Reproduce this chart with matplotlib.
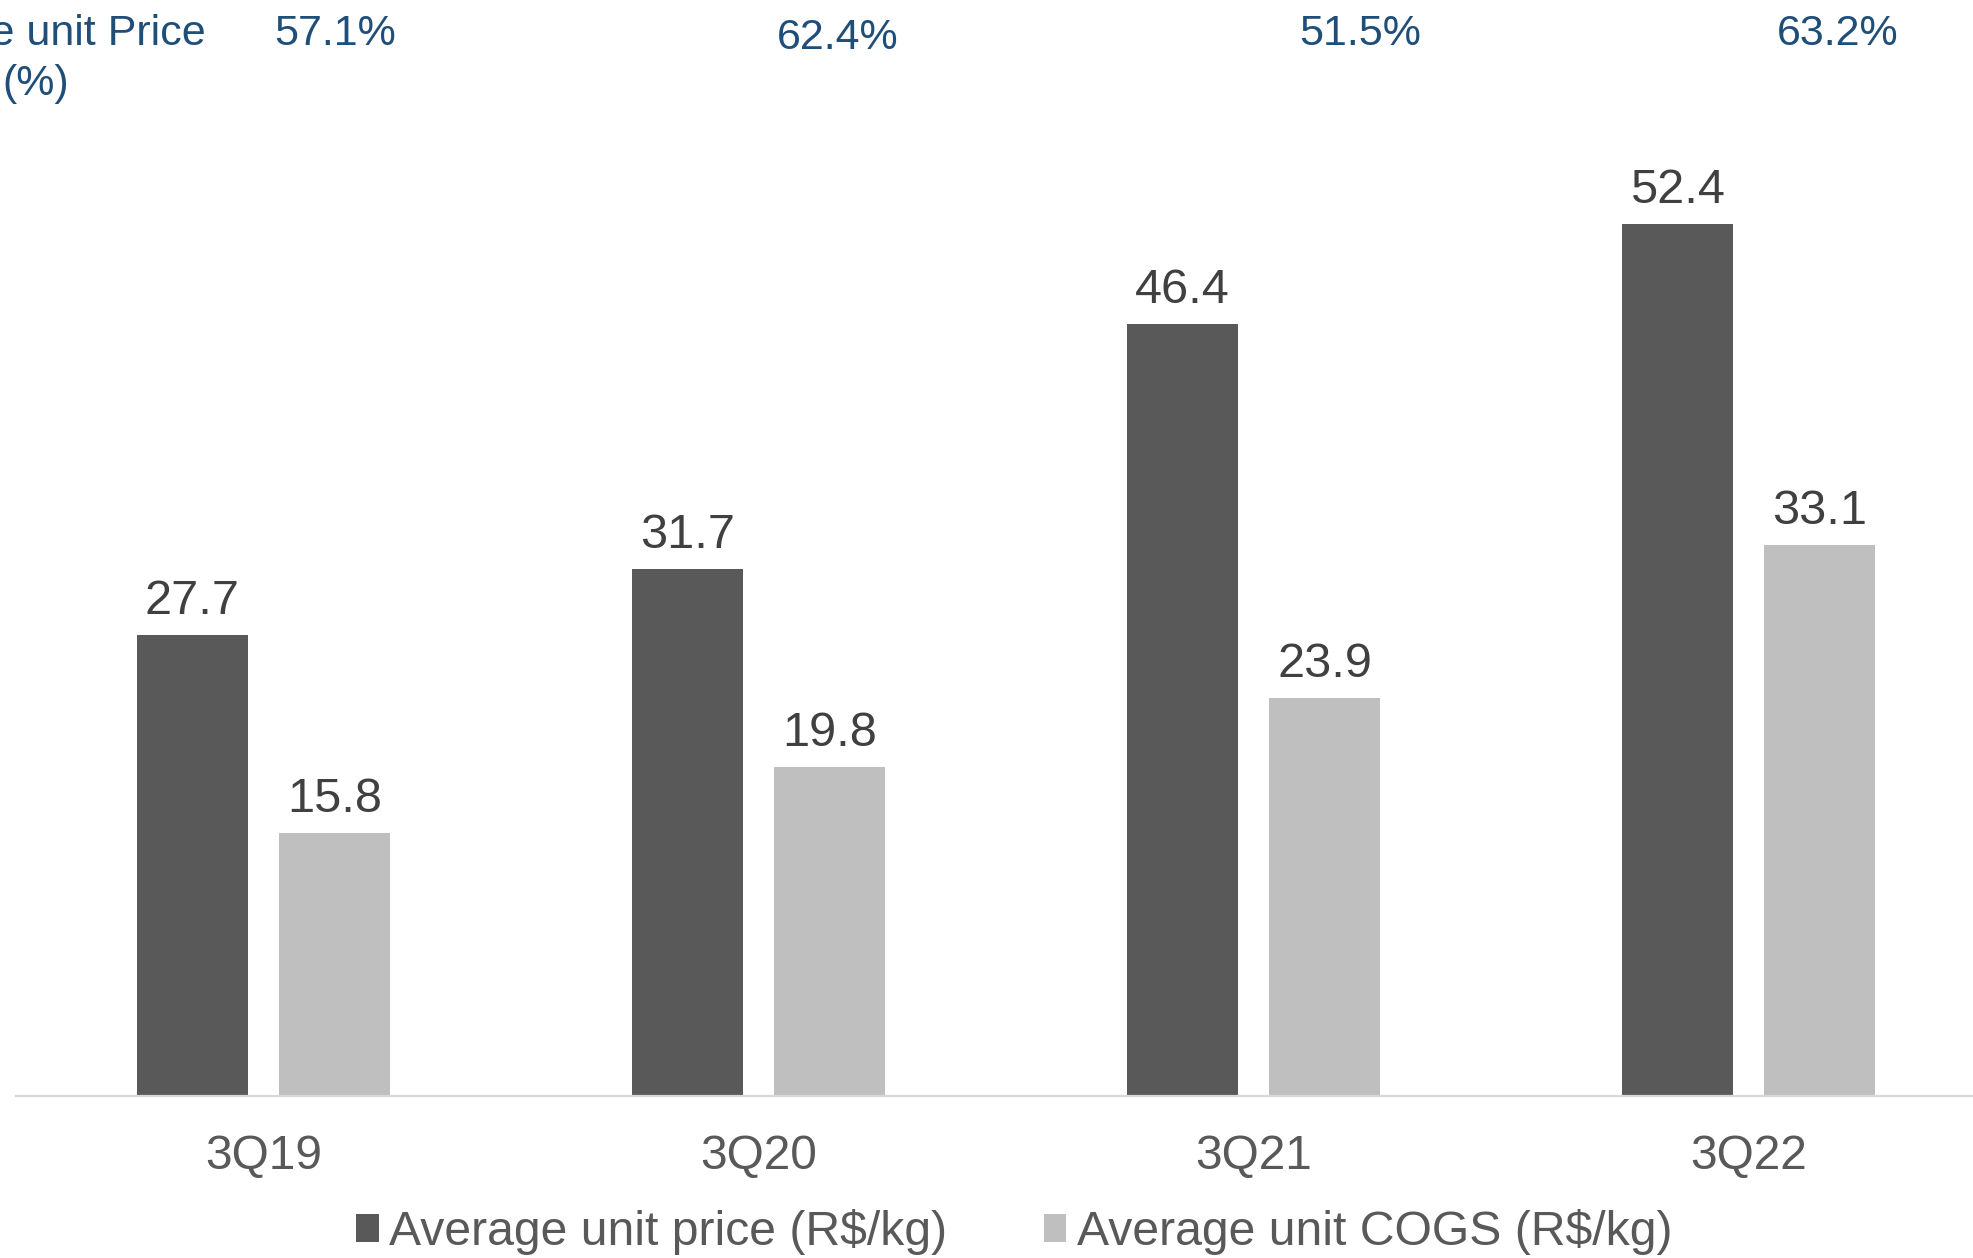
import matplotlib
matplotlib.use("Agg")
import matplotlib.pyplot as plt
from matplotlib.patches import Patch
import numpy as np

# ---- data ----
quarters = ["3Q19", "3Q20", "3Q21", "3Q22"]
avg_price = [27.7, 31.7, 46.4, 52.4]
avg_cogs = [15.8, 19.8, 23.9, 33.1]
ratio_labels = ["57.1%", "62.4%", "51.5%", "63.2%"]
series_names = ["Average unit price (R$/kg)", "Average unit COGS (R$/kg)"]

# ---- style ----
DPI = 100
W, H = 1973, 1258
dark = "#595959"
light = "#bfbfbf"
label_col = "#404040"
tick_col = "#595959"
blue = "#1f4e79"
plt.rcParams["font.family"] = ["Liberation Sans", "DejaVu Sans"]

fig = plt.figure(figsize=(W / DPI, H / DPI), dpi=DPI)

def px(x):
    return x / W

def py(y):
    return 1 - y / H

group_px = 495
ax_left, ax_right = 16, 16 + 4 * group_px
ax_bottom = 1096
ymax = 60
px_per_unit = 16.64
ax = fig.add_axes([px(ax_left), py(ax_bottom), (ax_right - ax_left) / W,
                   ymax * px_per_unit / H])

x = np.arange(len(quarters))
bw = 0.225
off = 0.1435
b1 = ax.bar(x - off, avg_price, bw, color=dark, zorder=2)
b2 = ax.bar(x + off, avg_cogs, bw, color=light, zorder=2)

ax.set_xlim(-0.5, 3.5)
ax.set_ylim(0, ymax)

for bars, vals in ((b1, avg_price), (b2, avg_cogs)):
    for rect, v in zip(bars, vals):
        ax.annotate(f"{v:.1f}", (rect.get_x() + rect.get_width() / 2, v),
                    xytext=(0, 21 * 72 / DPI), textcoords="offset points",
                    ha="center", va="baseline", fontsize=35, color=label_col)

for s in ("top", "right", "left"):
    ax.spines[s].set_visible(False)
ax.spines["bottom"].set_color("#d9d9d9")
ax.spines["bottom"].set_linewidth(1.6)
ax.set_yticks([])
ax.set_xticks(x)
ax.set_xticklabels(quarters, fontsize=34.5, color=tick_col)
ax.tick_params(axis="x", length=0, pad=27)

# ratio row along the top
ratio_x = [335, 838, 1360, 1838]
ratio_y = [45, 49, 45, 45]
for lbl, xx, yy in zip(ratio_labels, ratio_x, ratio_y):
    fig.text(px(xx), py(yy), lbl, ha="center", va="baseline",
             fontsize=31, color=blue)

fig.text(px(206), py(45), "Average unit Price", ha="right", va="baseline",
         fontsize=31, color=blue)
fig.text(px(2), py(95), "(%)", ha="left", va="baseline",
         fontsize=31, color=blue)

handles = [Patch(facecolor=dark), Patch(facecolor=light)]
fig.legend(handles, series_names, loc="center",
           bbox_to_anchor=(px(1014), py(1232)), ncol=2, frameon=False,
           fontsize=34.7, handlelength=0.475, handleheight=0.52,
           handletextpad=0.21, columnspacing=2.0, borderpad=0,
           labelcolor=tick_col)

fig.savefig("out.png", dpi=DPI)
